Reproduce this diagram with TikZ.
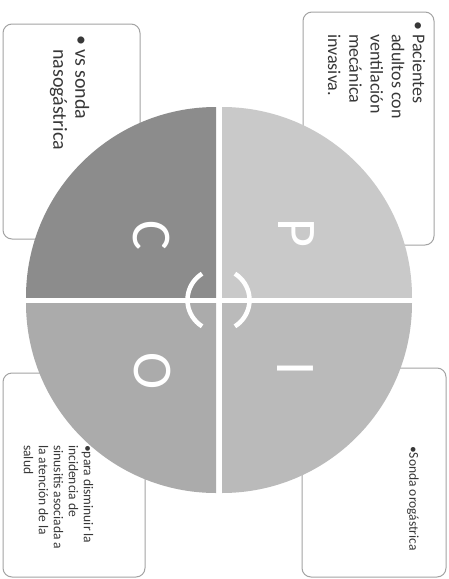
\documentclass[tikz,border=0pt]{standalone}
\usepackage{fontspec}
\setmainfont{Carlito}
\definecolor{qP}{gray}{0.79}
\definecolor{qI}{gray}{0.73}
\definecolor{qO}{gray}{0.67}
\definecolor{qC}{gray}{0.55}
\definecolor{boxline}{gray}{0.64}
\definecolor{txt}{gray}{0.22}
\tikzset{
  infobox/.style={draw=boxline, line width=1pt, fill=white, rounded corners=9pt},
  bigtxt/.style={rotate=-90, anchor=north west, inner sep=0pt, text=txt, font=\fontsize{18}{21.2}\selectfont},
  ctxt/.style={rotate=-90, anchor=north west, inner sep=0pt, text=txt, font=\fontsize{20}{22}\selectfont},
  smalltxt/.style={rotate=-90, anchor=north west, inner sep=0pt, text=txt, font=\fontsize{13.5}{15}\selectfont},
  letter/.style={rotate=-90, text=white, inner sep=0pt, font=\fontsize{56}{60}\selectfont},
  ringarc/.style={draw=white, line width=4.5pt}
}
\begin{document}
\begin{tikzpicture}[x=1pt, y=-1pt]
\useasboundingbox (0,0) rectangle (448,579);
\fill[white] (0,0) rectangle (448,579);

% boxes
\draw[infobox] (3,24) rectangle (140,239);
\draw[infobox] (303,12) rectangle (434,245);
\draw[infobox] (302,368) rectangle (446,577);
\draw[infobox] (3,373) rectangle (145,577);

% quadrants
\coordinate (cC) at (216,297);
\coordinate (cP) at (222,297);
\coordinate (cI) at (222,303);
\coordinate (cO) at (216,303);
\begin{scope}
  \clip (0,0) rectangle (216,297);
  \fill[qC] (cC) circle[radius=190];
\end{scope}
\begin{scope}
  \clip (222,0) rectangle (448,297);
  \fill[qP] (cP) circle[radius=190];
\end{scope}
\begin{scope}
  \clip (222,303) rectangle (448,579);
  \fill[qI] (cI) circle[radius=190];
\end{scope}
\begin{scope}
  \clip (0,303) rectangle (216,579);
  \fill[qO] (cO) circle[radius=190];
\end{scope}

% letters
\node[letter] (P) at (296,233) {P};
\node[letter] (C) at (151,235) {C};
\node[letter] (I) at (295,369) {I};
\node[letter] (O) at (152,371) {O};

% centre arcs
\coordinate (ctr) at (218.5,300);
\draw[ringarc] (ctr) ++(122:31pt) arc[start angle=122, end angle=238, radius=31pt];
\draw[ringarc] (ctr) ++(-58:31pt) arc[start angle=-58, end angle=58, radius=31pt];

% texts
\node[ctxt] (tC) at (91,35) {\begin{tabular}{@{}l@{\hspace{4pt}}l@{}}\textbullet & vs sonda\\ & nasogástrica\end{tabular}};
\node[bigtxt] (tP) at (428,21) {\begin{tabular}{@{}l@{\hspace{4pt}}l@{}}\textbullet & Pacientes\\ & adultos con\\ & ventilación\\ & mecánica\\ & invasiva.\end{tabular}};
\node[smalltxt] (tI) at (420,446) {\begin{tabular}{@{}l@{}}\textbullet Sonda orogástrica\end{tabular}};
\node[smalltxt] (tO) at (94.5,445) {\begin{tabular}{@{}l@{}}\textbullet para disminuir la\\ incidencia de\\ sinusitis asociada a\\ la atención de la\\ salud\end{tabular}};
\end{tikzpicture}
\end{document}
